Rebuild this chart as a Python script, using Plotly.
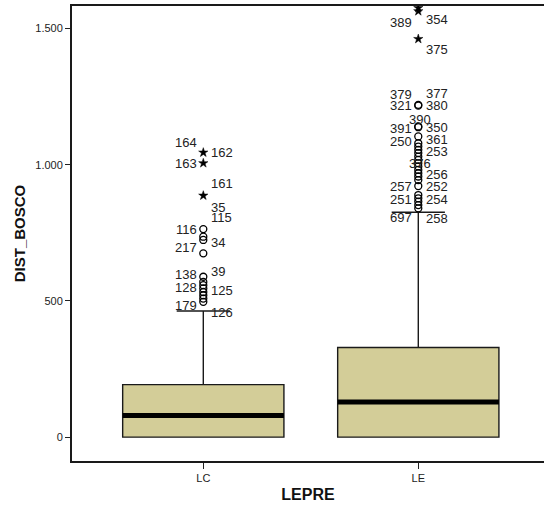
import plotly.graph_objects as go

# ---------------- data ----------------
categories = ["LC", "LE"]
positions = [0, 1]
q1 = [0, 0]
median = [80, 129]
q3 = [193, 329]
lower_fence = [0, 0]
upper_fence = [463, 826]

# outliers (circles) and extremes (stars)
lc_circles = [764, 736, 724, 675, 589, 570, 558, 546, 533, 521, 509, 497]
lc_stars = [1045, 1006, 887]
le_circles = [1220, 1217, 1141, 1138, 1104, 1079, 1067, 1055, 1043, 1030, 1018,
              1006, 994, 981, 969, 957, 944, 922, 889, 877, 865, 852, 840]
le_stars = [1576, 1564, 1462]

# case labels: text, value, side ("L" = left of marker, "R" = right, "C" = centered)
lc_lab_text = ["164", "162", "163", "161", "35", "115", "116", "34", "217",
               "39", "138", "128", "125", "179", "126"]
lc_lab_y = [1082, 1045, 1006, 930, 843, 806, 764, 714, 697,
            610, 599, 548, 540, 485, 456]
lc_lab_side = ["L", "R", "L", "R", "R", "R", "L", "R", "L",
               "R", "L", "L", "R", "L", "R"]

le_lab_text = ["389", "354", "375", "379", "377", "321", "380", "390", "391",
               "350", "250", "361", "253", "376", "256", "257", "252", "251",
               "254", "697", "258"]
le_lab_y = [1521, 1533, 1423, 1257, 1263, 1217, 1217, 1168, 1135,
            1138, 1085, 1092, 1049, 1006, 963, 920, 922, 871,
            871, 807, 803]
le_lab_side = ["L", "R", "R", "L", "R", "L", "R", "C", "L",
               "R", "L", "R", "R", "C", "R", "L", "R", "L",
               "R", "L", "R"]

y_ticks = [0, 500, 1000, 1500]

# ---------------- figure ----------------
FONT = "Arial, Liberation Sans, sans-serif"
BOX_FILL = "#D3CD98"
BOX_W = 0.75

fig = go.Figure()

for i, pos in enumerate(positions):
    fig.add_trace(go.Box(
        x=[pos], q1=[q1[i]], median=[median[i]], q3=[q3[i]],
        lowerfence=[lower_fence[i]], upperfence=[upper_fence[i]],
        width=BOX_W, whiskerwidth=0.33, fillcolor=BOX_FILL,
        line=dict(color="#1a1a1a", width=1.4), boxpoints=False,
        showlegend=False, hoverinfo="skip"))
    fig.add_trace(go.Scatter(
        x=[pos - BOX_W / 2, pos + BOX_W / 2], y=[median[i], median[i]],
        mode="lines", line=dict(color="black", width=5),
        showlegend=False, hoverinfo="skip"))

circle_sets = [lc_circles, le_circles]
star_sets = [lc_stars, le_stars]
for pos, circ, stars in zip(positions, circle_sets, star_sets):
    fig.add_trace(go.Scatter(
        x=[pos] * len(circ), y=circ, mode="markers",
        marker=dict(symbol="circle-open", size=7, color="black",
                    line=dict(width=1.3, color="black")),
        showlegend=False, hoverinfo="skip"))
    fig.add_trace(go.Scatter(
        x=[pos] * len(stars), y=stars, mode="markers",
        marker=dict(symbol="star", size=7, color="black",
                    line=dict(width=0.5, color="black")),
        showlegend=False, hoverinfo="skip"))

label_sets = [(lc_lab_text, lc_lab_y, lc_lab_side),
              (le_lab_text, le_lab_y, le_lab_side)]
for pos, (texts, ys, sides) in zip(positions, label_sets):
    for t, yv, s in zip(texts, ys, sides):
        if s == "L":
            anchor, shift = "right", -4
        elif s == "R":
            anchor, shift = "left", 6
        else:
            anchor, shift = "center", 2
        fig.add_annotation(x=pos, y=yv, text=t, showarrow=False,
                           xanchor=anchor, yanchor="middle", xshift=shift,
                           font=dict(family=FONT, size=13, color="#222"))

fig.update_layout(
    width=544, height=506,
    margin=dict(l=72, r=0, t=6, b=45),
    paper_bgcolor="white", plot_bgcolor="white",
    separators=",.",
    font=dict(family=FONT, color="#222"),
    xaxis=dict(
        range=[-0.6107, 1.5847], tickvals=positions, ticktext=categories,
        showline=True, mirror=True, linecolor="#1a1a1a", linewidth=2,
        ticks="outside", ticklen=6, tickcolor="#222", tickwidth=1,
        showgrid=False, zeroline=False,
        tickfont=dict(family=FONT, size=11, color="#222"),
        title=dict(text="<b>LEPRE</b>", standoff=6,
                   font=dict(family=FONT, size=16, color="#111"))),
    yaxis=dict(
        range=[-87.5, 1583], tickvals=y_ticks, tickformat=",d",
        showline=True, linecolor="#1a1a1a", linewidth=2,
        ticks="outside", ticklen=5, tickcolor="#222", tickwidth=1,
        showgrid=False, zeroline=False,
        tickfont=dict(family=FONT, size=11, color="#222"),
        title=dict(text="<b>DIST_BOSCO</b>", standoff=6,
                   font=dict(family=FONT, size=15, color="#111"))),
)

fig.write_html("out.html", config={"displayModeBar": False},
               post_script="document.body.style.margin='0px';")
